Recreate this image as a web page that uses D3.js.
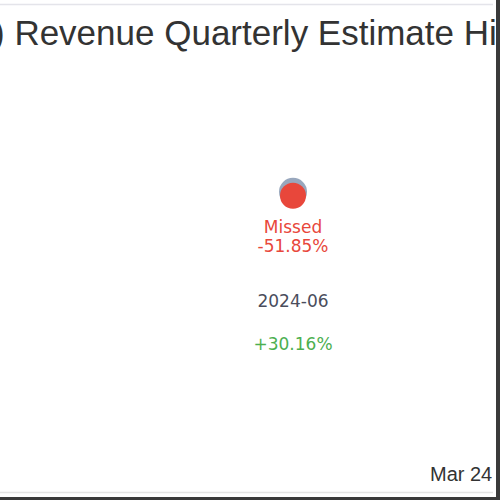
<!DOCTYPE html>
<meta charset="utf-8">
<head>
  <title>Revenue Quarterly Estimate History</title>
  <script src="https://cdn.jsdelivr.net/npm/d3@7"></script>
  <style>
    body { margin: 0; background: #fff; }
    svg { display: block; font-family: "Liberation Sans", Arial, sans-serif; }
    .lbl { font-family: "DejaVu Sans", sans-serif; }
  </style>
</head>
<body>
<svg width="500" height="500"></svg>
<script>

  var quarters  = ["2024-06"];      // fiscal quarter
  var estimates = [2.7];            // revenue estimate
  var actuals   = [1.3];            // reported revenue
  var surprise  = ["-51.85%"];      // surprise vs estimate
  var growth    = ["+30.16%"];      // yoy growth
  var results   = ["Missed"];
  var dateTicks = ["Mar 24"];

  var svg = d3.select("svg");

  var x = d3.scaleBand()
    .domain(quarters)
    .range([233, 353]);

  var y = d3.scaleLinear()
    .domain([-60, 60])
    .range([371, 28]);

  // frame lines
  svg.append("line")
    .attr("x1", 0).attr("x2", 493)
    .attr("y1", 4.5).attr("y2", 4.5)
    .attr("stroke", "#e4e4ea").attr("stroke-width", 1.5);

  svg.append("line")
    .attr("x1", 0).attr("x2", 493)
    .attr("y1", 492.5).attr("y2", 492.5)
    .attr("stroke", "#e4e4e4").attr("stroke-width", 1.5);

  // title, cut off on both sides
  svg.append("text")
    .attr("x", -7)
    .attr("y", 45)
    .attr("font-size", 35)
    .attr("fill", "#333")
    .text(") Revenue Quarterly Estimate History");

  svg.append("rect")
    .attr("x", 496).attr("y", 0)
    .attr("width", 4).attr("height", 500)
    .attr("fill", "#3a3a3a");

  svg.append("rect")
    .attr("x", 0).attr("y", 497)
    .attr("width", 500).attr("height", 3)
    .attr("fill", "#3a3a3a");

  var g = svg.append("g");

  var cols = g.selectAll("g.q")
    .data(quarters)
    .enter()
    .append("g")
      .attr("class", "q")
      .attr("transform", function(d) { return "translate(" + (x(d) + x.bandwidth() / 2) + ",0)"; });

  cols.append("circle")
    .attr("cy", function(d, i) { return y(estimates[i]); })
    .attr("r", 14)
    .attr("fill", "#8698b2")
    .attr("opacity", 0.85);

  cols.append("circle")
    .attr("cy", function(d, i) { return y(actuals[i]); })
    .attr("r", 13)
    .attr("fill", "#e8473b");

  cols.append("text")
    .attr("class", "lbl")
    .attr("y", 233)
    .attr("text-anchor", "middle")
    .attr("font-size", 17)
    .attr("fill", "#e8473b")
    .text(function(d, i) { return results[i]; });

  cols.append("text")
    .attr("class", "lbl")
    .attr("y", 252)
    .attr("text-anchor", "middle")
    .attr("font-size", 17)
    .attr("fill", "#e8473b")
    .text(function(d, i) { return surprise[i]; });

  cols.append("text")
    .attr("class", "lbl")
    .attr("y", 307)
    .attr("text-anchor", "middle")
    .attr("font-size", 17)
    .attr("fill", "#4a4d5c")
    .text(function(d) { return d; });

  cols.append("text")
    .attr("class", "lbl")
    .attr("y", 350)
    .attr("text-anchor", "middle")
    .attr("font-size", 17)
    .attr("fill", "#4caf50")
    .text(function(d, i) { return growth[i]; });

  svg.selectAll("text.date")
    .data(dateTicks)
    .enter()
    .append("text")
      .attr("class", "date")
      .attr("x", 430)
      .attr("y", 481)
      .attr("font-size", 20)
      .attr("fill", "#333")
      .text(function(d) { return d; });

</script>
</body>
</html>
